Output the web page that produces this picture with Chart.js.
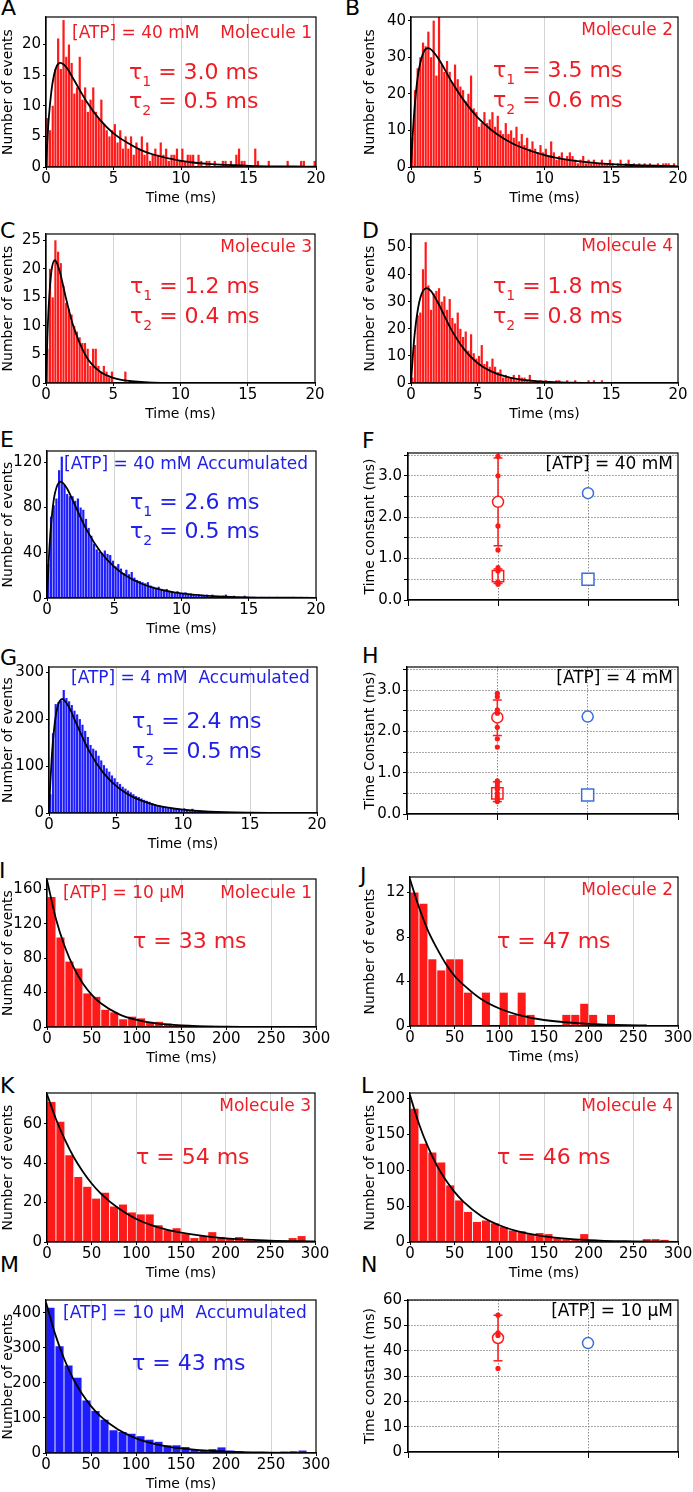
<!DOCTYPE html>
<html>
<head>
<meta charset="utf-8">
<script src="https://cdn.jsdelivr.net/npm/chart.js@4.4.0/dist/chart.umd.min.js"></script>
<style>
  body { margin: 0; background: #fff; width: 693px; height: 1492px; position: relative; overflow: hidden; font-family: "DejaVu Sans", sans-serif; }
  canvas { position: absolute; }
  .tag { position: absolute; font-size: 22px; line-height: 1; color: #000; }
</style>
</head>
<body>
<div class="tag" style="left:1px;top:-3px">A</div>
<div class="tag" style="left:345px;top:-3px">B</div>
<div class="tag" style="left:0px;top:220px">C</div>
<div class="tag" style="left:362px;top:220px">D</div>
<div class="tag" style="left:0px;top:429px">E</div>
<div class="tag" style="left:362px;top:430px">F</div>
<div class="tag" style="left:0px;top:647px">G</div>
<div class="tag" style="left:362px;top:645px">H</div>
<div class="tag" style="left:-1px;top:860px">I</div>
<div class="tag" style="left:360px;top:865px">J</div>
<div class="tag" style="left:0px;top:1075px">K</div>
<div class="tag" style="left:361px;top:1075px">L</div>
<div class="tag" style="left:0px;top:1254px">M</div>
<div class="tag" style="left:361px;top:1254px">N</div>
<script>
// histogram counts, 0.2 ms bins (A-G) and 10 ms bins (I-M)
const binsA = [8, 6, 10, 16, 21, 16, 24, 18, 20, 17, 12, 13, 18, 11, 13, 9, 11, 13, 9, 8, 11, 7, 6, 5, 6,
  7, 4, 6, 3, 5, 3, 5, 2, 4, 3, 5, 2, 4, 1, 2, 3, 2, 4, 2, 3, 1, 2, 2, 3, 1,
  3, 1, 2, 2, 2, 0, 2, 1, 0, 1, 1, 0, 1, 0, 0, 1, 1, 0, 1, 0, 2, 3, 1, 1, 0,
  0, 0, 3, 1, 0, 0, 0, 1, 0, 0, 0, 0, 0, 0, 1, 0, 0, 0, 0, 1, 1, 0, 0, 0, 1];
const binsB = [8, 21, 27, 30, 34, 33, 37, 30, 40, 25, 41, 28, 26, 29, 26, 23, 28, 24, 22, 21, 18, 20, 25, 16, 15,
  11, 12, 15, 12, 13, 15, 11, 14, 10, 9, 12, 9, 10, 8, 11, 7, 9, 6, 8, 5, 7, 5, 4, 6, 4,
  5, 3, 7, 4, 2, 3, 4, 2, 3, 4, 3, 2, 1, 2, 3, 1, 2, 1, 2, 1, 1, 2, 1, 1, 2,
  1, 0, 1, 2, 0, 1, 2, 0, 1, 0, 1, 0, 1, 0, 1, 0, 0, 1, 0, 1, 1, 1, 0, 1, 0];
const binsC = [6, 20, 15, 25, 23, 21, 17, 14, 13, 12, 10, 9, 8, 7, 7, 6, 3, 6, 6, 3, 2, 3, 2, 1, 2,
  0, 0, 0, 0, 2];
const binsD = [2, 14, 25, 26, 42, 52, 36, 27, 33, 34, 35, 30, 32, 27, 31, 24, 22, 26, 20, 17, 19, 12, 18, 11, 9,
  10, 14, 7, 8, 6, 9, 6, 4, 5, 2, 3, 2, 2, 3, 1, 3, 2, 2, 1, 3, 1, 1, 0, 1, 0,
  1, 0, 0, 0, 1, 1, 0, 0, 1, 0, 0, 1, 0, 0, 0, 0, 1, 0, 1, 0, 0, 1, 0, 0, 0];
const binsE = [30, 72, 82, 88, 113, 125, 100, 92, 90, 90, 86, 88, 80, 78, 70, 62, 55, 48, 43, 41, 40, 42, 39, 38, 33,
  28, 30, 26, 22, 25, 21, 23, 18, 16, 15, 14, 13, 14, 11, 10, 9, 10, 8, 7, 8, 6, 6, 5, 6, 4,
  4, 5, 3, 4, 3, 2, 3, 2, 2, 3, 1, 3, 2, 2, 1, 2, 3, 1, 1, 2, 1, 1, 1, 2, 1,
  0, 1, 1, 0, 1, 1, 0, 1, 0, 0, 1, 0, 0, 0, 0, 0, 1, 0, 0, 1, 0, 1, 0, 0, 0];
const binsG = [40, 170, 232, 236, 240, 262, 245, 238, 230, 218, 210, 200, 188, 175, 162, 145, 137, 133, 122, 112, 102, 95, 88, 80, 74,
  66, 62, 56, 52, 48, 44, 40, 36, 34, 31, 28, 26, 24, 21, 19, 17, 16, 15, 13, 12, 11, 10, 9, 9, 8,
  10, 8, 7, 9, 6, 5, 5, 4, 3, 3, 2, 2, 2, 1, 2, 1, 1, 1, 1, 1, 1, 0, 1, 0, 1];
const binsI = [151, 104, 76, 68, 39, 35, 20, 17, 9, 12, 10, 6, 6, 4, 2, 2, 1.5, 1, 1, 0.5, 0.5, 0.5, 0.5, 0, 0, 0, 0, 0, 0, 0];
const binsJ = [12, 11, 6, 5, 6, 6, 3, 0, 3, 0, 3, 1, 3, 1, 0, 0, 0, 1, 1, 2, 1, 0, 1, 0, 0, 0, 0, 0, 0, 0];
const binsK = [71, 61, 44, 33, 28, 22, 25, 18, 19, 15, 14, 14, 8.5, 6, 7, 4, 2, 3, 5, 2.5, 2, 2.5, 1, 1, 0.7, 0.7, 0.7, 2, 3, 0.3];
const binsL = [186, 137, 125, 111, 79, 58, 42, 28, 30, 26, 21, 16, 15, 11, 12.5, 11, 5.5, 4, 4, 11, 3, 2, 0.5, 0.5, 0.5, 0.5, 4, 4, 3, 0];
const binsM = [415, 305, 250, 215, 150, 120, 95, 65, 60, 55, 48, 38, 32, 22, 22, 17, 10, 9, 11, 16, 7, 5, 3, 2, 1, 1, 4, 5, 7, 0];

// fitted curves, read at a few times
const fitTimeA = [0, 0.1, 0.2, 0.4, 0.6, 0.8, 1.05, 1.5, 2, 3, 4, 5, 6, 7, 8, 10, 12, 15, 20];
const fitA = [0, 4.3, 7.8, 12.4, 15.1, 16.5, 17, 16.3, 14.5, 10.7, 7.7, 5.5, 4.0, 2.8, 2.0, 1.0, 0.5, 0.2, 0.04];
const fitTimeB = [0, 0.1, 0.2, 0.4, 0.6, 1.0, 1.3, 2, 3, 4, 5, 6, 7, 8, 10, 12, 15, 20];
const fitB = [0, 7.1, 12.9, 21.4, 26.8, 31.8, 32.5, 29.9, 23.6, 18, 13.5, 10.2, 7.65, 5.75, 3.24, 1.83, 0.78, 0.19];
const fitTimeC = [0, 0.1, 0.2, 0.4, 0.66, 1, 1.5, 2, 3, 4, 5, 6, 8, 10];
const fitC = [0, 7.9, 13.4, 19.5, 21.5, 19.7, 14.7, 10.2, 4.6, 2.0, 0.9, 0.4, 0.07, 0.01];
const fitTimeD = [0, 0.2, 0.4, 0.7, 1.17, 1.5, 2, 3, 4, 5, 6, 7, 8, 10, 12, 15];
const fitD = [0, 14, 23.4, 31.5, 35, 33.9, 29.8, 19.9, 12.3, 7.3, 4.3, 2.5, 1.4, 0.47, 0.15, 0.03];
const fitTimeE = [0, 0.1, 0.2, 0.4, 0.6, 1.02, 1.5, 2, 3, 4, 5, 6, 7, 8, 10, 12, 15, 20];
const fitE = [0, 27, 48.4, 77.1, 93.2, 103, 96.7, 84.1, 59.1, 40.5, 27.6, 18.8, 12.8, 8.7, 4.0, 1.9, 0.6, 0.1];
const fitTimeG = [0, 0.1, 0.2, 0.4, 0.6, 0.99, 1.5, 2, 3, 4, 5, 6, 7, 8, 10, 12, 15, 20];
const fitG = [0, 65, 116, 184, 221.6, 243, 225, 193, 131.8, 87.5, 57.8, 38.1, 25.1, 16.5, 7.2, 3.1, 0.9, 0.1];
const fitTimeSlow = [0, 10, 20, 30, 40, 50, 60, 80, 100, 120, 150, 200, 250, 300];
const fitI = [171, 125.5, 92.9, 68.6, 50.6, 37.4, 27.6, 15, 8.2, 4.5, 1.8, 0.4, 0.09, 0.02];
const fitTimeJ = [0, 10, 20, 30, 40, 50, 60, 80, 100, 120, 150, 200, 265];
const fitJ = [13.2, 10.7, 8.6, 7.0, 5.6, 4.5, 3.7, 2.4, 1.57, 1.03, 0.54, 0.19, 0.05];
const fitK = [75, 62.4, 51.9, 43, 35.8, 29.7, 24.7, 17.1, 11.7, 8.1, 4.7, 1.8, 0.7, 0.3];
const fitL = [205, 165, 133, 107, 86.4, 69.6, 56.1, 36.1, 23.4, 15.1, 7.9, 2.65, 0.9, 0.3];
const fitM = [430, 341, 270, 213, 169, 134, 106, 67, 42, 26.4, 13.1, 4.1, 1.3, 0.4];

// time constants (F, H, N)
const tau1F = [3.47, 3.0, 1.79, 1.21];
const tau2F = [0.78, 0.70, 0.43, 0.38];
const meanF = [2.37, 0.575];
const err1F = [1.31, 3.43];
const err2F = [0.40, 0.75];
const accF = [2.58, 0.50];
const tau1H = [2.92, 2.84, 2.52, 2.44, 2.10, 1.82, 1.62];
const tau2H = [0.80, 0.75, 0.68, 0.60, 0.50, 0.42, 0.35, 0.30];
const meanH = [2.34, 0.50];
const err1H = [1.90, 2.76];
const err2H = [0.30, 0.78];
const accH = [2.36, 0.46];
const tauN = [54, 47, 46, 33];
const meanN = 45;
const errN = [36, 54];
const accN = 43;

const RED = '#ff1a1a', RED_TXT = '#ee1c24', BLUE = '#1c1cff', BLUE_TXT = '#2020e8', BLUE_MARK = '#3a6fdc';
const FONT = '"DejaVu Sans", sans-serif';
Chart.defaults.font.family = FONT;
Chart.defaults.color = '#000';

// frame + text drawn inside the plot area
const notes = {
  id: 'notes',
  afterDraw(chart, args, opts) {
    const ctx = chart.ctx, a = chart.chartArea;
    ctx.save();
    ctx.strokeStyle = '#000';
    ctx.lineWidth = 1.2;
    ctx.strokeRect(a.left, a.top, a.right - a.left, a.bottom - a.top);
    ctx.textBaseline = 'alphabetic';
    (opts.items || []).forEach(n => {
      ctx.fillStyle = n.color;
      ctx.font = n.size + 'px ' + FONT;
      const y = a.top + n.y;
      if (n.right != null) {
        ctx.textAlign = 'right';
        ctx.fillText(n.text, a.right - n.right, y);
      } else if (n.sub) {
        ctx.textAlign = 'left';
        let x = a.left + n.x;
        ctx.fillText('τ', x, y);
        x += ctx.measureText('τ').width;
        ctx.font = Math.round(n.size * 0.64) + 'px ' + FONT;
        ctx.fillText(n.sub, x, y + 7);
        x += ctx.measureText(n.sub).width;
        ctx.font = n.size + 'px ' + FONT;
        ctx.fillText(n.text, x, y);
      } else {
        ctx.textAlign = 'left';
        ctx.fillText(n.text, a.left + n.x, y);
      }
    });
    ctx.restore();
  }
};

function place(rect, col, xh) {
  const L = col === 0 ? 0 : 360;
  const top = rect[1] - 12;
  const w = rect[2] + 16 - L, h = rect[3] + xh - top;
  const cv = document.createElement('canvas');
  cv.width = w; cv.height = h;
  cv.style.left = L + 'px'; cv.style.top = top + 'px';
  cv.style.width = w + 'px'; cv.style.height = h + 'px';
  document.body.appendChild(cv);
  return { cv, yw: rect[0] - L, col };
}

function histogram(rect, col, p) {
  const { cv, yw } = place(rect, col, 44);
  const bw = p.binWidth;
  new Chart(cv, {
    type: 'bar',
    data: {
      datasets: [
        { type: 'line', data: p.fitT.map((t, i) => ({ x: t, y: p.fitY[i] })), borderColor: '#000', borderWidth: 1.8,
          pointRadius: 0, cubicInterpolationMode: 'monotone', order: 0 },
        { data: p.bins.map((v, i) => ({ x: (i + 0.5) * bw, y: v })), backgroundColor: p.color,
          barPercentage: p.barPct, categoryPercentage: 1, order: 1 }
      ]
    },
    options: {
      responsive: false, animation: false, devicePixelRatio: 1,
      layout: { padding: { top: 12, right: 16, left: 0, bottom: 0 } },
      plugins: { legend: { display: false }, tooltip: { enabled: false }, notes: { items: p.notes } },
      scales: {
        x: {
          type: 'linear', min: 0, max: p.xMax, offset: false,
          afterFit: s => { s.height = 44; },
          ticks: { stepSize: p.xStep, font: { size: 15 }, padding: 0, maxRotation: 0, autoSkip: false },
          grid: { offset: false, lineWidth: 1, tickColor: '#000', tickLength: 3,
            color: c => (c.tick && c.tick.value > 0 && c.tick.value < p.xMax) ? '#d4d4d4' : 'rgba(0,0,0,0)' },
          border: { color: '#000', width: 1.2 },
          title: { display: true, text: 'Time (ms)', font: { size: 14 }, padding: { top: 0, bottom: 4 } }
        },
        y: {
          min: 0, max: p.yMax,
          afterFit: s => { s.width = yw; },
          ticks: { stepSize: p.yStep, includeBounds: false, font: { size: 15 }, padding: 2 },
          grid: { drawOnChartArea: false, tickColor: '#000', tickLength: 3 },
          border: { color: '#000', width: 1.2 },
          title: { display: true, text: 'Number of events', font: { size: 14 }, padding: { top: col ? 2 : 0, bottom: 0 } }
        }
      }
    },
    plugins: [notes]
  });
}

function summary(rect, col, p) {
  const { cv, yw } = place(rect, col, 10);
  const ds = [];
  p.groups.forEach(g => {
    ds.push({ data: g.err.map(v => ({ x: 1, y: v })), showLine: true, borderColor: RED, borderWidth: 1.5,
      pointStyle: 'line', pointRadius: 4.5, pointBorderColor: RED, pointBorderWidth: 1.5, order: 3 });
    ds.push({ data: [{ x: 1, y: g.mean }], pointStyle: g.style, pointRadius: g.style === 'rect' ? 8 : 5.5,
      pointBackgroundColor: g.style === 'rect' ? 'rgba(0,0,0,0)' : '#fff', pointBorderColor: RED, pointBorderWidth: 1.5, order: 2 });
    ds.push({ data: g.dots.map(v => ({ x: 1, y: v })), pointRadius: 2.6, pointBackgroundColor: RED, pointBorderWidth: 0, order: 1 });
  });
  p.acc.forEach(a => ds.push({ data: [{ x: 2, y: a.y }], pointStyle: a.style, pointRadius: a.style === 'rect' ? 8.5 : 5.5,
    pointBackgroundColor: '#fff', pointBorderColor: BLUE_MARK, pointBorderWidth: 1.5, order: 0 }));
  new Chart(cv, {
    type: 'scatter',
    data: { datasets: ds },
    options: {
      responsive: false, animation: false, devicePixelRatio: 1,
      layout: { padding: { top: 12, right: 16, left: 0, bottom: 0 } },
      plugins: { legend: { display: false }, tooltip: { enabled: false }, notes: { items: p.notes } },
      scales: {
        x: {
          type: 'linear', min: 0, max: 3,
          afterFit: s => { s.height = 10; },
          ticks: { stepSize: 1, display: false },
          grid: { tickColor: '#000', tickLength: 6, lineWidth: 1,
            color: c => (c.tick && c.tick.value > 0 && c.tick.value < 3) ? '#8c8c8c' : 'rgba(0,0,0,0)' },
          border: { color: '#000', width: 1.2, dash: [1.5, 1.5] }
        },
        y: {
          min: 0, max: p.yMax,
          afterFit: s => { s.width = yw; },
          ticks: { stepSize: p.yStep, includeBounds: false, font: { size: 15 }, padding: 2,
            callback: p.label },
          grid: { tickColor: '#000', tickLength: 4, lineWidth: 1,
            color: c => (c.tick && c.tick.value > 0) ? '#8c8c8c' : 'rgba(0,0,0,0)' },
          border: { color: '#000', width: 1.2, dash: [1.5, 1.5] },
          title: { display: true, text: p.title, font: { size: 14 }, padding: { top: 2, bottom: 0 } }
        }
      }
    },
    plugins: [notes]
  });
}

const tau = (sub, text, x, y, color) => ({ sub, text, x, y, color, size: 22 });
const big = (text, x, y, color) => ({ text, x, y, color, size: 22 });
const txt = (text, x, y, color) => ({ text, x, y, color, size: 17 });
const txtR = (text, right, y, color) => ({ text, right, y, color, size: 17 });
const halfLabel = v => Number.isInteger(v) ? v.toFixed(1) : '';

histogram([46, 17, 316, 167], 0, { bins: binsA, binWidth: 0.2, fitT: fitTimeA, fitY: fitA, color: RED, barPct: 0.82,
  xMax: 20, xStep: 5, yMax: 24.5, yStep: 5,
  notes: [txt('[ATP] = 40 mM', 26, 21, RED_TXT), txtR('Molecule 1', 4, 21, RED_TXT),
    tau('1', ' = 3.0 ms', 83, 62, RED_TXT), tau('2', ' = 0.5 ms', 83, 91, RED_TXT)] });
histogram([411, 17, 678, 167], 1, { bins: binsB, binWidth: 0.2, fitT: fitTimeB, fitY: fitB, color: RED, barPct: 0.82,
  xMax: 20, xStep: 5, yMax: 41, yStep: 10,
  notes: [txtR('Molecule 2', 5, 18, RED_TXT),
    tau('1', ' = 3.5 ms', 82, 60, RED_TXT), tau('2', ' = 0.6 ms', 82, 90, RED_TXT)] });
histogram([46, 234, 315, 383], 0, { bins: binsC, binWidth: 0.2, fitT: fitTimeC, fitY: fitC, color: RED, barPct: 0.82,
  xMax: 20, xStep: 5, yMax: 26.1, yStep: 5,
  notes: [txtR('Molecule 3', 3, 18, RED_TXT),
    tau('1', ' = 1.2 ms', 84, 59, RED_TXT), tau('2', ' = 0.4 ms', 84, 89, RED_TXT)] });
histogram([411, 234, 678, 383], 1, { bins: binsD, binWidth: 0.2, fitT: fitTimeD, fitY: fitD, color: RED, barPct: 0.82,
  xMax: 20, xStep: 5, yMax: 55, yStep: 10,
  notes: [txtR('Molecule 4', 5, 17, RED_TXT),
    tau('1', ' = 1.8 ms', 82, 59, RED_TXT), tau('2', ' = 0.8 ms', 82, 89, RED_TXT)] });
histogram([47, 451, 316, 598], 0, { bins: binsE, binWidth: 0.2, fitT: fitTimeE, fitY: fitE, color: BLUE, barPct: 0.82,
  xMax: 20, xStep: 5, yMax: 130, yStep: 40,
  notes: [txt('[ATP] = 40 mM Accumulated', 17, 18, BLUE_TXT),
    tau('1', ' = 2.6 ms', 83, 58, BLUE_TXT), tau('2', ' = 0.5 ms', 83, 87, BLUE_TXT)] });
summary([408, 453, 678, 601], 1, { yMax: 3.55, yStep: 0.5, label: halfLabel, title: 'Time constant (ms)',
  groups: [{ dots: tau1F, mean: meanF[0], err: err1F, style: 'circle' }, { dots: tau2F, mean: meanF[1], err: err2F, style: 'rect' }],
  acc: [{ y: accF[0], style: 'circle' }, { y: accF[1], style: 'rect' }],
  notes: [txtR('[ATP] = 40 mM', 5, 16, '#000')] });
histogram([49, 667, 317, 813], 0, { bins: binsG, binWidth: 0.2, fitT: fitTimeG, fitY: fitG, color: BLUE, barPct: 0.82,
  xMax: 20, xStep: 5, yMax: 311, yStep: 100,
  notes: [txt('[ATP] = 4 mM  Accumulated', 22, 16, BLUE_TXT),
    tau('1', ' = 2.4 ms', 83, 61, BLUE_TXT), tau('2', ' = 0.5 ms', 83, 91, BLUE_TXT)] });
summary([407, 667, 678, 815], 1, { yMax: 3.56, yStep: 0.5, label: halfLabel, title: 'Time Constant (ms)',
  groups: [{ dots: tau1H, mean: meanH[0], err: err1H, style: 'circle' }, { dots: tau2H, mean: meanH[1], err: err2H, style: 'rect' }],
  acc: [{ y: accH[0], style: 'circle' }, { y: accH[1], style: 'rect' }],
  notes: [txtR('[ATP] = 4 mM', 5, 16, '#000')] });
histogram([47, 879, 316, 1027], 0, { bins: binsI, binWidth: 10, fitT: fitTimeSlow, fitY: fitI, color: RED, barPct: 0.9,
  xMax: 300, xStep: 50, yMax: 172, yStep: 40,
  notes: [txt('[ATP] = 10 µM', 16, 19, RED_TXT), txtR('Molecule 1', 4, 19, RED_TXT), big('τ = 33 ms', 86, 69, RED_TXT)] });
histogram([410, 877, 678, 1026], 1, { bins: binsJ, binWidth: 10, fitT: fitTimeJ, fitY: fitJ, color: RED, barPct: 0.9,
  xMax: 300, xStep: 50, yMax: 13.4, yStep: 4,
  notes: [txtR('Molecule 2', 5, 18, RED_TXT), big('τ = 47 ms', 87, 71, RED_TXT)] });
histogram([47, 1093, 315, 1242], 0, { bins: binsK, binWidth: 10, fitT: fitTimeSlow, fitY: fitK, color: RED, barPct: 0.9,
  xMax: 300, xStep: 50, yMax: 75.6, yStep: 20,
  notes: [txtR('Molecule 3', 4, 18, RED_TXT), big('τ = 54 ms', 89, 71, RED_TXT)] });
histogram([410, 1093, 678, 1242], 1, { bins: binsL, binWidth: 10, fitT: fitTimeSlow, fitY: fitL, color: RED, barPct: 0.9,
  xMax: 300, xStep: 50, yMax: 208, yStep: 50,
  notes: [txtR('Molecule 4', 5, 18, RED_TXT), big('τ = 46 ms', 87, 71, RED_TXT)] });
histogram([46, 1300, 316, 1453], 0, { bins: binsM, binWidth: 10, fitT: fitTimeSlow, fitY: fitM, color: BLUE, barPct: 0.9,
  xMax: 300, xStep: 50, yMax: 437, yStep: 100,
  notes: [txt('[ATP] = 10 µM  Accumulated', 17, 18, BLUE_TXT), big('τ = 43 ms', 86, 70, BLUE_TXT)] });
summary([408, 1300, 678, 1453], 1, { yMax: 60, yStep: 10, label: v => v, title: 'Time constant (ms)',
  groups: [{ dots: tauN, mean: meanN, err: errN, style: 'circle' }],
  acc: [{ y: accN, style: 'circle' }],
  notes: [txtR('[ATP] = 10 µM', 5, 16, '#000')] });
</script>
</body>
</html>
